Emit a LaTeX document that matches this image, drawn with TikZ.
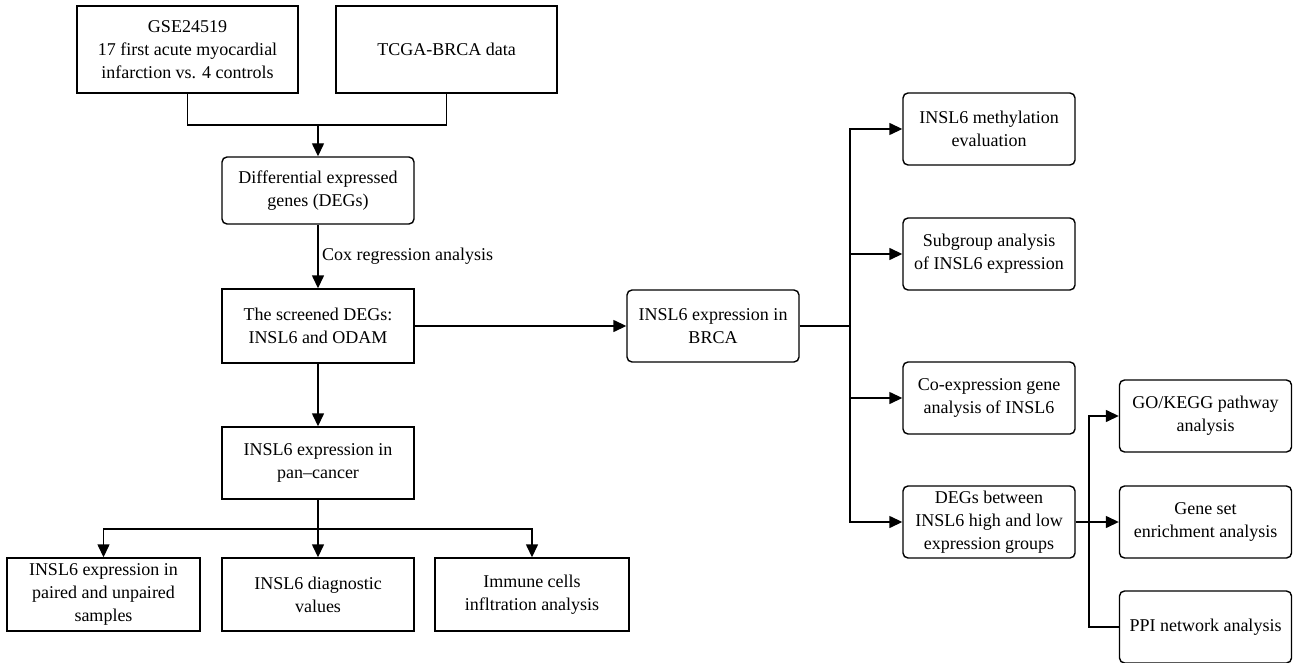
\documentclass[tikz,border=0pt]{standalone}
\usepackage{fontspec}
\setmainfont{Liberation Serif}
\usetikzlibrary{arrows.meta}

\begin{document}
\begin{tikzpicture}[x=1pt,y=-1pt,
		font=\fontsize{18}{23}\selectfont,
		>={Triangle[length=13pt,width=12pt]},
		line width=1.4pt]
		\useasboundingbox (0,0) rectangle (1293,663);
		
		% square boxes
		\begin{scope}[every node/.style={draw,align=center,inner sep=2pt}]
			\node[minimum width=221pt,minimum height=87pt] (gse) at (187.5,49.5) {GSE24519\\17 first acute myocardial\\infarction vs. 4 controls};
			\node[minimum width=221pt,minimum height=87pt] (tcga) at (446.5,49.5) {TCGA-BRCA data};
			\node[minimum width=192pt,minimum height=74pt] (scr) at (318,326) {The screened DEGs:\\INSL6 and ODAM};
			\node[minimum width=192pt,minimum height=72pt] (pan) at (318,463) {INSL6 expression in\\pan--cancer};
			\node[minimum width=193pt,minimum height=73pt] (pair) at (103.5,594.5) {INSL6 expression in\\paired and unpaired\\samples};
			\node[minimum width=192pt,minimum height=73pt] (diag) at (318,594.5) {INSL6 diagnostic\\values};
			\node[minimum width=194pt,minimum height=73pt] (imm) at (532,594.5) {Immune cells\\infltration analysis};
		\end{scope}
		
		% rounded boxes
		\begin{scope}[every node/.style={draw,rounded corners=5pt,align=center,inner sep=2pt,minimum width=172pt,minimum height=72pt}]
			\node[minimum width=192pt,minimum height=67pt] (deg) at (318,190.5) {Differential expressed\\genes (DEGs)};
			\node (brca) at (713,326) {INSL6 expression in\\BRCA};
			\node (meth) at (989,129) {INSL6 methylation\\evaluation};
			\node (sub) at (989,254) {Subgroup analysis\\of INSL6 expression};
			\node (coex) at (989,398) {Co-expression gene\\analysis of INSL6};
			\node (degb) at (989,522) {DEGs between\\INSL6 high and low\\expression groups};
			\node (go) at (1205.5,416) {GO/KEGG pathway\\analysis};
			\node (gsea) at (1205.5,522) {Gene set\\enrichment analysis};
			\node (ppi) at (1205.5,627) {PPI network analysis};
		\end{scope}
		
		\coordinate (join) at (318,125);
		\coordinate (bus) at (318,529);
		\coordinate (br) at (850,326);
		\coordinate (gv) at (1089,522);
		
		\draw (gse.south) |- (join) -| (tcga.south);
		\draw[->] (join) -- (deg);
		\draw[->] (deg) -- node[right] {Cox regression analysis} (scr);
		\draw[->] (scr) -- (brca);
		\draw[->] (scr) -- (pan);
		\draw[->] (pan) -- (diag);
		\draw[->] (bus) -| (pair.north);
		\draw[->] (bus) -| (imm.north);
		
		\draw (brca) -- (br);
		\draw[->] (br) |- (meth);
		\draw[->] (br) |- (sub);
		\draw[->] (br) |- (coex);
		\draw[->] (br) |- (degb);
		
		\draw[->] (degb) -- (gsea);
		\draw[->] (gv) |- (go);
		\draw (gv) |- (ppi);
	\end{tikzpicture}
\end{document}
